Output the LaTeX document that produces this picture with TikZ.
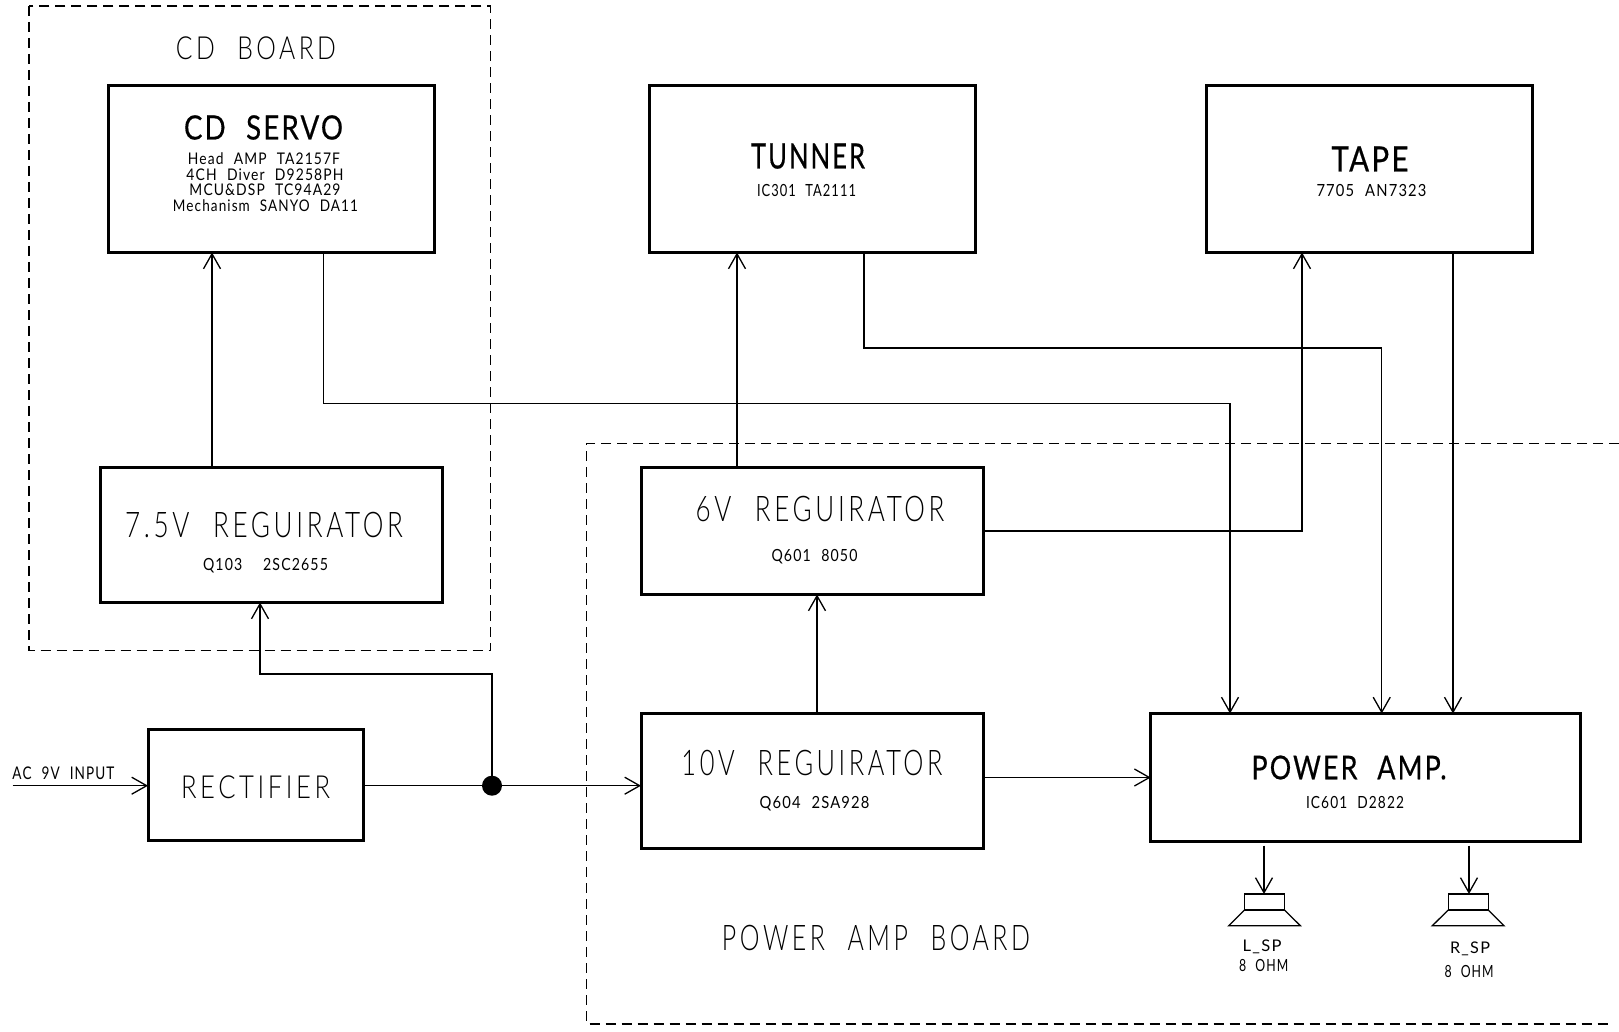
\documentclass[tikz,border=0pt]{standalone}
\usepackage{graphicx}
\usepackage{fontspec}
\usetikzlibrary{arrows.meta}
\setmainfont{Lato}
\newfontfamily\thinf[LetterSpace=14,WordSpace=2.2]{Lato Light}
\newfontfamily\headf[LetterSpace=8,WordSpace=2.2,FakeBold=0.6]{Lato}
\newfontfamily\smallf[LetterSpace=8,WordSpace=2.2]{Lato}
\newcommand\fitlbl[4]{\resizebox{#1pt}{#2pt}{#3\raisebox{0pt}[\fontcharht\font`H][0pt]{#4}}}
\tikzset{
  blockbox/.style={draw,line width=3pt,inner sep=0pt,outer sep=0pt,line join=miter},
  wire/.style={line width=1.3pt,line join=miter},
  arr/.style={wire,-{Straight Barb[length=15pt,width=17pt,line width=1.3pt]}},
  boardline/.style={line width=1.4pt,dash pattern=on 10pt off 6pt},
  lbl/.style={inner sep=0pt,outer sep=0pt},
  spk/.style={draw,line width=1.4pt,inner sep=0pt,outer sep=0pt,minimum width=40pt,minimum height=16pt},
}
\newcommand\blk[5]{\node[blockbox,minimum width=#4pt-#2pt,minimum height=#5pt-#3pt] (#1) at ({(#2+#4)/2},{(#3+#5)/2}) {};}
\begin{document}
\begin{tikzpicture}[x=1pt,y=-1pt]
\useasboundingbox (0,0) rectangle (1619,1032);
\fill[white] (0,0) rectangle (1619,1032);
% boards
\draw[boardline] (29,6) rectangle (490.7,650.5);
\coordinate (pbTR) at (1619,443.5);
\coordinate (pbBR) at (1612,1024);
\draw[boardline] (pbTR) -- (586.5,443.5) -- (586.5,1024) -- (pbBR);
% blocks
\blk{cd}{108.5}{86}{434.5}{252.5}
\blk{tun}{649.7}{86}{975.5}{252.5}
\blk{tape}{1206}{86}{1532}{252.5}
\blk{rega}{100.5}{467}{442.5}{602.5}
\blk{regb}{641}{467}{983.5}{594.5}
\blk{regc}{641}{713.5}{983.5}{848.5}
\blk{amp}{1150.7}{713.5}{1580.7}{841}
\blk{rect}{148}{729.5}{363.3}{840.7}
% labels
\node[lbl] (tcdb) at (256,48) {\fitlbl{160}{22.5}{\thinf}{CD BOARD}};
\node[lbl] (tcds) at (263.5,127.5) {\fitlbl{159}{24}{\headf}{CD SERVO}};
\node[lbl] (ts1) at (264,158.5) {\fitlbl{152}{11.5}{\smallf}{Head AMP TA2157F}};
\node[lbl] (ts2) at (265,174.7) {\fitlbl{157}{11.5}{\smallf}{4CH Diver D9258PH}};
\node[lbl] (ts3) at (265,190) {\fitlbl{151}{11.5}{\smallf}{MCU\&DSP TC94A29}};
\node[lbl] (ts4) at (265.5,206) {\fitlbl{185}{11.5}{\smallf}{Mechanism SANYO DA11}};
\node[lbl] (ttun) at (808,156) {\fitlbl{114}{25}{\headf}{TUNNER}};
\node[lbl] (ttun2) at (806.5,190.5) {\fitlbl{99}{12}{\smallf}{IC301 TA2111}};
\node[lbl] (ttap) at (1370,159) {\fitlbl{77}{25}{\headf}{TAPE}};
\node[lbl] (ttap2) at (1371.5,190.5) {\fitlbl{110}{12}{\smallf}{7705 AN7323}};
\node[lbl] (tra) at (264,525) {\fitlbl{278}{25}{\thinf}{7.5V REGUIRATOR}};
\node[lbl] (tra2) at (265.5,564) {\fitlbl{125}{12}{\smallf}{Q103\ \ 2SC2655}};
\node[lbl] (trb) at (820,509) {\fitlbl{249}{25}{\thinf}{6V REGUIRATOR}};
\node[lbl] (trb2) at (814.5,555.5) {\fitlbl{86}{12}{\smallf}{Q601 8050}};
\node[lbl] (trc) at (812,763) {\fitlbl{261}{25}{\thinf}{10V REGUIRATOR}};
\node[lbl] (trc2) at (814.5,802) {\fitlbl{110}{12}{\smallf}{Q604 2SA928}};
\node[lbl] (tamp) at (1349,767.5) {\fitlbl{195}{23.5}{\headf}{POWER AMP.}};
\node[lbl] (tamp2) at (1355,802.7) {\fitlbl{98}{12}{\smallf}{IC601 D2822}};
\node[lbl] (trect) at (255.6,787) {\fitlbl{149}{22.5}{\thinf}{RECTIFIER}};
\node[lbl] (tac) at (63.5,773) {\fitlbl{102}{12.5}{\smallf}{AC 9V INPUT}};
\node[lbl] (tpab) at (876,937.5) {\fitlbl{308}{25}{\thinf}{POWER AMP BOARD}};
\node[lbl] (tls) at (1262,946) {\fitlbl{39}{11.5}{\smallf}{L\_SP}};
\node[lbl] (tlo) at (1263.7,965.7) {\fitlbl{49}{12}{\smallf}{8 OHM}};
\node[lbl] (trs) at (1470,948) {\fitlbl{40}{11.5}{\smallf}{R\_SP}};
\node[lbl] (tro) at (1469,971.7) {\fitlbl{49}{12}{\smallf}{8 OHM}};
% junction and free ends
\node[circle,fill=black,inner sep=0pt,outer sep=0pt,minimum size=20pt] (jn) at (492,785.7) {};
\coordinate (acin) at (12.6,785.7);
% connectors
\draw[arr] (acin) -- (rect.west |- acin);
\draw[wire] (rect.east |- jn) -- (jn);
\draw[arr] (jn) -- (regc.west |- jn);
\draw[arr] (jn) -- (492,674) -- (260,674) -- (260,0 |- rega.south);
\draw[arr] (212,0 |- rega.north) -- (212,0 |- cd.south);
\draw[arr] (323.5,0 |- cd.south) -- (323.5,403.7) -- (1230,403.7) -- (1230,0 |- amp.north);
\draw[arr] (737,0 |- regb.north) -- (737,0 |- tun.south);
\draw[arr] (864,0 |- tun.south) -- (864,348) -- (1381.7,348) -- (1381.7,0 |- amp.north);
\draw[arr] (regb.east |- 0,531) -- (1302,531) -- (1302,0 |- tape.south);
\draw[arr] (1453,0 |- tape.south) -- (1453,0 |- amp.north);
\draw[arr] (817,0 |- regc.north) -- (817,0 |- regb.south);
\draw[arr] (regc.east |- 0,777.5) -- (amp.west |- 0,777.5);
% speakers
\node[spk] (lsp) at (1264.5,902) {};
\node[spk] (rsp) at (1468.3,902) {};
\draw[wire] (lsp.south west) -- (1228.7,925.7) -- (1300.3,925.7) -- (lsp.south east);
\draw[wire] (rsp.south west) -- (1432.3,925.7) -- (1504,925.7) -- (rsp.south east);
\coordinate (lout) at (1264,845.7);
\coordinate (rout) at (1469,845.7);
\draw[arr] (lout) -- (lout |- lsp.north);
\draw[arr] (rout) -- (rout |- rsp.north);
\end{tikzpicture}
\end{document}
